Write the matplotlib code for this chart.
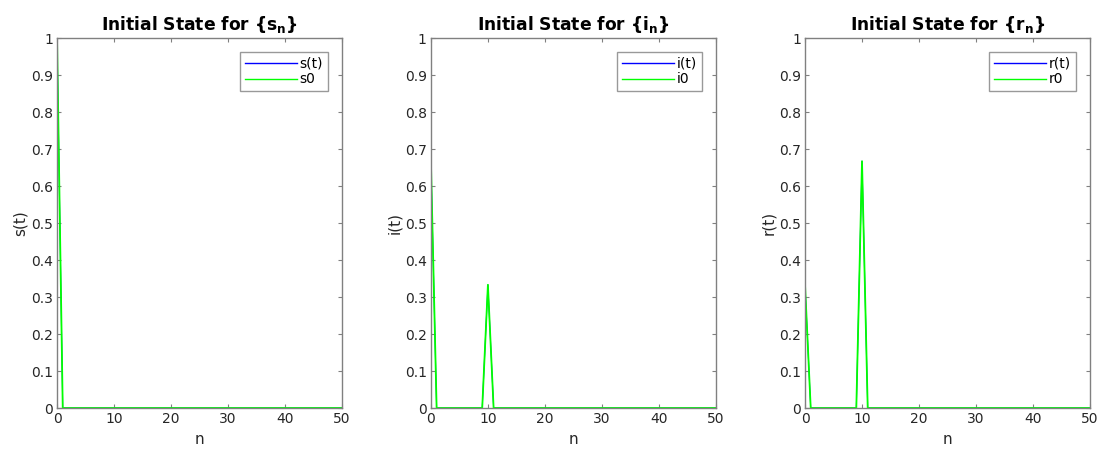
import numpy as np
import matplotlib
matplotlib.use("Agg")
import matplotlib.pyplot as plt

n = np.arange(0, 51)
s_vals = np.zeros(51); s_vals[0] = 1.0
i_vals = np.zeros(51); i_vals[0] = 0.667; i_vals[10] = 0.333
r_vals = np.zeros(51); r_vals[0] = 0.333; r_vals[10] = 0.667

panels = [
    ("s", s_vals, "s(t)", "s0"),
    ("i", i_vals, "i(t)", "i0"),
    ("r", r_vals, "r(t)", "r0"),
]
yticks = np.round(np.arange(0, 1.01, 0.1), 1)
ytick_labels = ["0"] + [f"{v:g}" for v in yticks[1:]]
xticks = [0, 10, 20, 30, 40, 50]

fig = plt.figure(figsize=(10.99, 4.53), dpi=100)
lefts = [0.0519, 0.3921, 0.7325]
axcol = "#808080"
txtcol = "#262626"
for left, (name, vals, lab_t, lab_0) in zip(lefts, panels):
    ax = fig.add_axes([left, 0.0993, 0.2593, 0.8168])
    ax.plot(n, vals, color="#0000ff", lw=0.7, label=lab_t)
    ax.plot(n, vals, color="#00ff00", lw=1.3, label=lab_0)
    ax.set_xlim(0, 50)
    ax.set_ylim(0, 1)
    ax.set_xticks(xticks)
    ax.set_yticks(yticks)
    ax.set_yticklabels(ytick_labels)
    ax.tick_params(direction="in", top=True, right=True, length=3, width=0.8,
                   color=axcol, labelcolor=txtcol, labelsize=10, pad=3)
    for sp in ax.spines.values():
        sp.set_color(axcol)
        sp.set_linewidth(1.0)
    ax.set_xlabel("n", fontsize=11, color=txtcol)
    ax.set_ylabel(f"{name}(t)", fontsize=11, color=txtcol, labelpad=2)
    ax.set_title(f"Initial State for {{{name}$_\\mathbf{{n}}$}}", fontsize=12.3,
                 fontweight="bold", color="black", pad=6)
    leg = ax.legend(loc="upper right", fontsize=10, frameon=True, fancybox=False,
                    handlelength=3.75, borderpad=0.35, labelspacing=0.12,
                    handletextpad=0.22, borderaxespad=1.0)
    leg.get_frame().set_edgecolor(axcol)
    leg.get_frame().set_linewidth(1.0)
    for ln in leg.get_lines():
        ln.set_linewidth(1.0)

fig.savefig("out.png", dpi=100)
